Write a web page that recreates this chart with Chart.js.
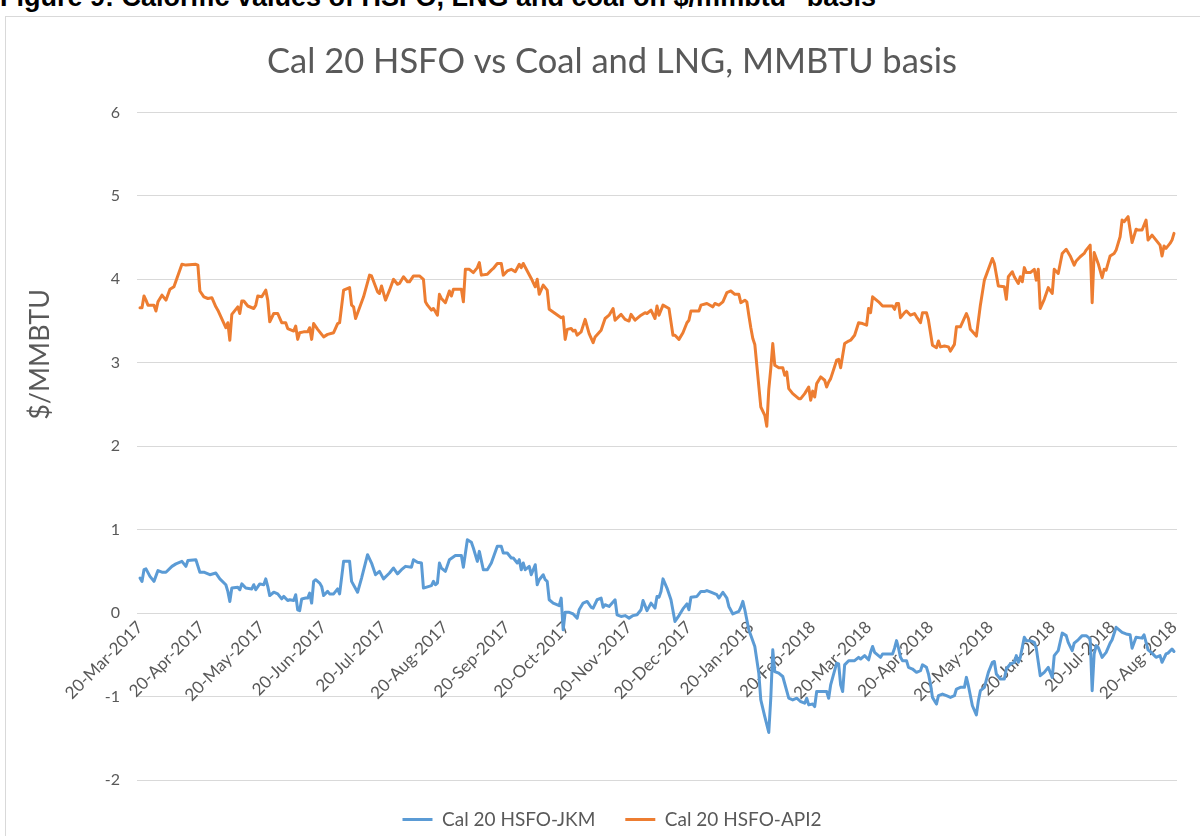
<!DOCTYPE html>
<html>
<head>
<meta charset="utf-8">
<script src="https://cdn.jsdelivr.net/npm/chart.js@4.4.1/dist/chart.umd.min.js"></script>
<style>
  html, body { margin:0; padding:0; background:#fff; }
  body { width:1200px; height:836px; overflow:hidden; position:relative; }
  #hdr { position:absolute; left:0; top:-19px; font:bold 27px "Liberation Sans", Arial, sans-serif; color:#000; white-space:nowrap; }
  #hdr sup { font-size:17px; }
  #frame { position:absolute; left:5px; top:16px; width:1220px; height:840px; border:1px solid #d9d9d9; box-sizing:border-box; }
  #wrap { position:absolute; left:6px; top:17px; width:1194px; height:819px; }
</style>
</head>
<body>
<div id="hdr">Figure 9: Calorific values of HSFO, LNG and coal on $/mmbtu<sup>**</sup> basis</div>
<div id="frame"></div>
<div id="wrap"><canvas id="c" width="1194" height="819"></canvas></div>
<script>
// ---- data (x = days since 20-Mar-2017) ----
const tickLabels = ['20-Mar-2017','20-Apr-2017','20-May-2017','20-Jun-2017','20-Jul-2017','20-Aug-2017','20-Sep-2017','20-Oct-2017','20-Nov-2017','20-Dec-2017','20-Jan-2018','20-Feb-2018','20-Mar-2018','20-Apr-2018','20-May-2018','20-Jun-2018','20-Jul-2018','20-Aug-2018'];
const seriesNames = ['Cal 20 HSFO-JKM', 'Cal 20 HSFO-API2'];
const chartTitle = 'Cal 20 HSFO vs Coal and LNG, MMBTU basis';
const yAxisTitle = '$/MMBTU';

const jkmDays = [0,1,2,3,5,7,9,11,13,16,18,21,23,24,28,30,32,35,38,40,43,44,45,46,49,50,51,53,56,57,58,60,62,63,64,65,67,69,71,72,74,75,77,78,79,80,81,83,84,85,86,87,88,90,91,92,94,95,97,99,100,102,105,106,109,111,114,116,118,120,122,125,127,129,131,133,136,137,139,141,142,146,147,148,149,150,151,153,155,158,161,162,164,166,167,169,170,172,174,176,179,181,182,184,186,187,189,190,191,192,193,195,196,198,199,200,202,203,204,205,207,210,211,212,213,215,217,219,220,222,224,226,227,229,231,232,233,235,238,239,241,243,245,247,249,251,252,254,256,258,259,260,261,262,264,266,268,270,272,274,275,276,279,281,283,284,286,289,290,292,294,295,297,300,301,302,303,305,308,310,311,313,315,316,317,318,320,322,325,327,329,331,333,334,335,337,338,339,341,344,345,346,349,350,351,352,353,355,358,360,361,363,365,366,367,368,371,372,377,378,379,380,381,382,384,385,387,389,391,392,394,395,396,397,399,400,402,404,406,408,409,411,413,414,415,417,419,420,421,423,425,427,428,429,431,433,434,436,438,439,440,441,443,444,446,448,449,451,453,455,457,458,460,462,464,465,467,468,470,472,474,476,477,478,479,480,482,484,486,487,489,492,494,496,497,499,502,503,505,507,509,511,512,514,515,517,518];
const jkmValues = [0.42,0.38,0.52,0.53,0.44,0.38,0.51,0.49,0.49,0.56,0.59,0.62,0.56,0.63,0.64,0.49,0.49,0.46,0.48,0.41,0.34,0.26,0.14,0.30,0.31,0.28,0.35,0.30,0.29,0.34,0.28,0.35,0.34,0.41,0.32,0.21,0.25,0.23,0.17,0.20,0.15,0.16,0.15,0.22,0.04,0.03,0.17,0.18,0.18,0.24,0.12,0.38,0.40,0.36,0.32,0.21,0.26,0.23,0.23,0.29,0.23,0.62,0.62,0.38,0.25,0.42,0.70,0.60,0.46,0.50,0.41,0.48,0.54,0.47,0.52,0.56,0.55,0.64,0.61,0.60,0.30,0.33,0.38,0.34,0.36,0.60,0.54,0.50,0.64,0.69,0.69,0.55,0.88,0.85,0.78,0.62,0.74,0.52,0.52,0.60,0.80,0.80,0.72,0.72,0.66,0.66,0.60,0.64,0.52,0.60,0.52,0.56,0.46,0.58,0.34,0.40,0.46,0.40,0.38,0.16,0.12,0.09,0.18,-0.20,0.01,0.01,-0.01,-0.06,0.04,0.12,0.14,0.07,0.06,0.16,0.18,0.07,0.10,0.08,0.16,-0.02,-0.04,-0.03,-0.06,-0.03,-0.02,0.04,0.15,0.03,0.12,0.06,0.20,0.19,0.26,0.41,0.30,0.16,-0.10,-0.03,0.05,0.11,0.04,0.19,0.20,0.26,0.26,0.27,0.25,0.22,0.18,0.25,0.18,0.08,-0.01,0.02,0.07,0.14,0.04,-0.20,-0.40,-0.72,-1.04,-1.24,-1.43,-1.02,-0.44,-0.70,-0.72,-0.76,-1.02,-1.04,-1.02,-1.06,-1.08,-1.02,-1.10,-1.09,-1.12,-0.94,-0.94,-0.94,-1.02,-0.86,-0.60,-0.61,-0.86,-0.94,-0.62,-0.57,-0.57,-0.53,-0.55,-0.51,-0.56,-0.47,-0.40,-0.47,-0.53,-0.49,-0.49,-0.42,-0.33,-0.42,-0.53,-0.57,-0.57,-0.65,-0.67,-0.71,-0.69,-0.62,-0.65,-0.73,-0.85,-1.01,-1.09,-0.99,-0.97,-0.99,-1.01,-0.99,-0.91,-0.89,-0.89,-0.77,-0.87,-1.11,-1.22,-1.05,-0.93,-0.89,-0.71,-0.59,-0.58,-0.73,-0.79,-0.79,-0.67,-0.61,-0.59,-0.51,-0.59,-0.53,-0.29,-0.33,-0.33,-0.35,-0.42,-0.75,-0.71,-0.65,-0.77,-0.51,-0.45,-0.24,-0.27,-0.35,-0.45,-0.36,-0.32,-0.27,-0.27,-0.31,-0.93,-0.49,-0.39,-0.41,-0.53,-0.47,-0.36,-0.32,-0.17,-0.23,-0.25,-0.26,-0.42,-0.29,-0.30,-0.26,-0.44,-0.48,-0.53,-0.51,-0.59,-0.49,-0.48,-0.43,-0.46];

const api2Days = [0,1,2,3,4,7,8,9,11,13,15,17,21,23,28,29,30,32,34,36,38,39,43,44,45,46,49,50,51,52,54,57,58,59,61,63,64,65,67,69,71,73,74,77,78,79,80,82,84,85,86,87,89,92,94,97,99,100,102,105,106,107,108,112,115,116,119,120,121,123,125,127,129,130,132,134,135,137,140,142,143,144,146,147,148,149,150,151,153,155,156,157,161,162,163,165,167,169,170,171,174,176,177,179,181,182,184,186,188,190,191,192,196,198,199,200,202,204,205,208,211,212,213,214,216,217,218,219,221,223,225,227,228,231,233,235,237,238,241,243,245,246,248,251,253,254,256,258,259,260,262,265,267,268,270,272,274,275,276,280,281,284,287,288,290,292,294,296,298,300,301,303,304,305,306,307,308,311,313,314,315,316,317,318,320,322,323,324,325,327,330,331,333,335,336,337,338,339,341,343,344,345,346,349,350,351,353,355,356,358,360,362,364,365,366,367,370,372,377,378,379,380,381,383,384,386,388,389,391,392,394,395,397,399,400,401,403,405,406,408,409,411,414,415,416,419,421,423,427,428,430,433,434,435,437,438,440,441,442,443,444,446,448,449,450,451,453,455,457,458,460,462,464,466,468,469,471,473,474,476,477,478,480,482,483,484,486,488,489,491,492,493,495,497,499,500,502,504,505,507,509,511,512,513,514,516,517,518];
const api2Values = [3.66,3.66,3.80,3.75,3.69,3.69,3.62,3.73,3.81,3.75,3.88,3.91,4.18,4.17,4.18,4.17,3.86,3.79,3.77,3.78,3.67,3.63,3.42,3.48,3.27,3.58,3.67,3.59,3.74,3.74,3.68,3.65,3.69,3.80,3.79,3.87,3.75,3.49,3.59,3.59,3.48,3.48,3.41,3.38,3.44,3.28,3.36,3.37,3.37,3.42,3.28,3.47,3.40,3.31,3.34,3.36,3.47,3.48,3.87,3.90,3.69,3.67,3.53,3.79,4.05,4.04,3.85,3.83,3.92,3.75,3.87,4.00,3.94,3.95,4.03,3.97,3.97,4.04,4.04,4.00,3.73,3.69,3.63,3.65,3.61,3.57,3.82,3.77,3.72,3.86,3.80,3.88,3.88,3.73,4.12,4.12,4.08,4.14,4.20,4.05,4.06,4.11,4.13,4.19,4.19,4.05,4.10,4.12,4.09,4.18,4.14,4.19,4.01,3.91,4.00,3.82,3.93,3.87,3.64,3.59,3.54,3.55,3.28,3.40,3.41,3.38,3.39,3.33,3.37,3.52,3.35,3.24,3.31,3.39,3.53,3.57,3.65,3.51,3.58,3.52,3.50,3.58,3.51,3.57,3.60,3.59,3.63,3.53,3.68,3.57,3.69,3.65,3.33,3.33,3.28,3.36,3.48,3.51,3.62,3.62,3.69,3.71,3.67,3.71,3.69,3.73,3.84,3.86,3.82,3.82,3.72,3.75,3.73,3.57,3.42,3.29,3.22,2.47,2.37,2.24,2.68,2.93,3.23,2.97,2.94,2.94,2.85,2.89,2.69,2.63,2.57,2.57,2.63,2.71,2.55,2.66,2.59,2.75,2.83,2.79,2.71,2.77,2.81,3.03,3.04,2.94,3.23,3.26,3.27,3.33,3.48,3.47,3.45,3.65,3.60,3.79,3.73,3.68,3.68,3.64,3.71,3.71,3.54,3.60,3.62,3.57,3.59,3.55,3.48,3.60,3.60,3.51,3.21,3.18,3.26,3.19,3.20,3.19,3.14,3.22,3.43,3.43,3.59,3.53,3.40,3.32,3.69,3.99,4.25,4.19,3.92,3.91,3.76,4.03,4.09,4.03,3.95,4.03,3.97,4.14,4.08,4.08,4.12,3.99,4.12,3.65,3.76,3.90,3.83,4.12,4.07,4.31,4.36,4.28,4.17,4.22,4.27,4.31,4.35,4.41,3.72,4.32,4.19,4.02,4.12,4.11,4.28,4.31,4.35,4.51,4.71,4.69,4.75,4.44,4.60,4.59,4.59,4.71,4.47,4.53,4.47,4.41,4.28,4.40,4.37,4.43,4.47,4.55];

// ---- helpers ----
const MONTHS = {Jan:0,Feb:1,Mar:2,Apr:3,May:4,Jun:5,Jul:6,Aug:7,Sep:8,Oct:9,Nov:10,Dec:11};
const START = Date.UTC(2017, 2, 20);
function labelToDay(s) {
  const [d, m, y] = s.split('-');
  return Math.round((Date.UTC(+y, MONTHS[m], +d) - START) / 86400000);
}
const tickDays = tickLabels.map(labelToDay);
const toPoints = (xs, ys) => xs.map((x, i) => ({ x: x, y: ys[i] }));

const GRAY = '#595959';
const FONT = 'Lato, "Open Sans", sans-serif';

// y-axis title, drawn beside the y scale at the reference's height
const yTitlePlugin = {
  id: 'yTitle',
  afterDraw(chart) {
    const c = chart.ctx;
    const ys = chart.scales.y;
    c.save();
    c.translate(chart.chartArea.left - 97, ys.getPixelForValue(3.1));
    c.rotate(-Math.PI / 2);
    c.font = '27px ' + FONT;
    c.fillStyle = GRAY;
    c.textAlign = 'center';
    c.textBaseline = 'middle';
    c.fillText(yAxisTitle, 0, 0);
    c.restore();
  }
};

new Chart(document.getElementById('c'), {
  type: 'line',
  data: {
    datasets: [
      { label: seriesNames[0], data: toPoints(jkmDays, jkmValues), borderColor: '#5B9BD5', backgroundColor: '#5B9BD5', borderWidth: 3, pointRadius: 0, tension: 0, borderJoinStyle: 'round', borderCapStyle: 'round' },
      { label: seriesNames[1], data: toPoints(api2Days, api2Values), borderColor: '#ED7D31', backgroundColor: '#ED7D31', borderWidth: 3, pointRadius: 0, tension: 0, borderJoinStyle: 'round', borderCapStyle: 'round' }
    ]
  },
  plugins: [yTitlePlugin],
  options: {
    responsive: false,
    animation: false,
    layout: { padding: { left: 41, right: 23, top: 0, bottom: -3 } },
    plugins: {
      title: { display: true, text: chartTitle, color: GRAY,
               font: { family: FONT, size: 34.5, weight: 'normal' }, padding: { top: 24, bottom: 30 } },
      legend: { position: 'bottom',
                labels: { usePointStyle: true, pointStyle: 'line', pointStyleWidth: 30, color: GRAY,
                          font: { family: FONT, size: 19 }, padding: 30 } },
      tooltip: { enabled: false }
    },
    scales: {
      x: {
        type: 'linear', position: { y: 0 }, min: -1.5, max: 519.5,
        grid: { display: false }, border: { display: false },
        afterBuildTicks: (s) => { s.ticks = tickDays.map(v => ({ value: v })); },
        ticks: { autoSkip: false, minRotation: 45, maxRotation: 45, padding: -4, color: GRAY,
                 font: { family: FONT, size: 17 }, callback: (v, i) => tickLabels[i] },
        afterFit: (s) => { s.height = 14; s.paddingLeft = 0; s.paddingRight = 0; }
      },
      y: {
        min: -2, max: 6,
        ticks: { stepSize: 1, padding: 17, color: GRAY, font: { family: FONT, size: 16 } },
        grid: { color: '#d9d9d9', drawTicks: false, lineWidth: 1 },
        border: { display: false },
        afterFit: (s) => { s.width = 90; }
      }
    }
  }
});
</script>
</body>
</html>
